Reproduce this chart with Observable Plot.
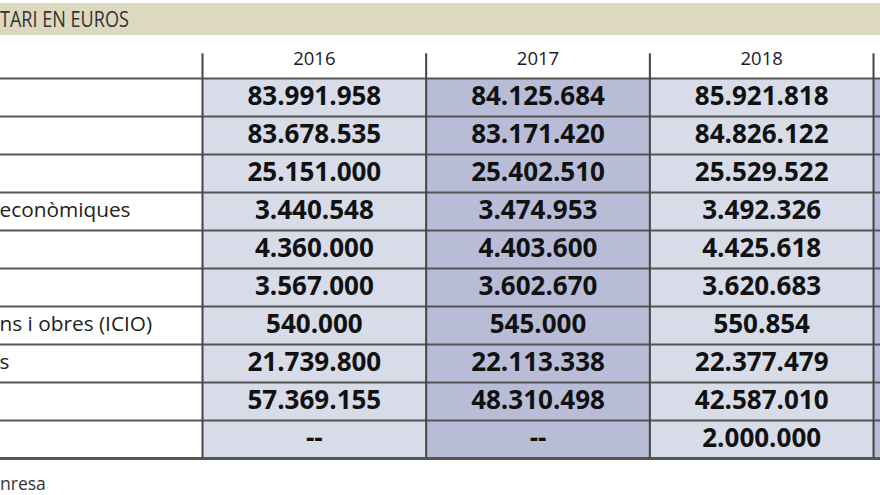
<!DOCTYPE html>
<html>
<head>
<meta charset="utf-8">
<script src="https://cdn.jsdelivr.net/npm/d3@7"></script>
<script src="https://cdn.jsdelivr.net/npm/@observablehq/plot@0.6"></script>
<style>
  html, body { margin: 0; padding: 0; background: #fff; overflow: hidden; }
  body { width: 880px; height: 495px; position: relative; font-family: "Open Sans", sans-serif; }
  #title { position: absolute; left: 0; top: 3px; width: 880px; height: 32px; background: #ddd8c0;
           color: #333; font-size: 21px; line-height: 33px; white-space: nowrap; overflow: hidden; }
  #title span { display: inline-block; margin-left: 0; transform: scaleX(0.86); transform-origin: 0 50%; }
  #chart { position: absolute; left: 0; top: 38px; width: 880px; overflow: hidden; }
  #chart svg { overflow: hidden; }
  #caption { position: absolute; left: 0; top: 471px; font-size: 17.5px; color: #333; white-space: nowrap; }
</style>
</head>
<body>
<div id="title"></div>
<div id="chart"></div>
<div id="caption"></div>
<script>
// ---- data ----
const title = "TARI EN EUROS";
const source = "nresa";
const years = ["2016", "2017", "2018", "2019"];
const rowLabels = ["", "", "", "econòmiques", "", "", "ns i obres (ICIO)", "s", "", ""];
const v2016 = [83991958, 83678535, 25151000, 3440548, 4360000, 3567000, 540000, 21739800, 57369155, null];
const v2017 = [84125684, 83171420, 25402510, 3474953, 4403600, 3602670, 545000, 22113338, 48310498, null];
const v2018 = [85921818, 84826122, 25529522, 3492326, 4425618, 3620683, 550854, 22377479, 42587010, 2000000];
const v2019 = []; // column cut off at the right edge

// ---- build tables ----
const series = [v2016, v2017, v2018, v2019];
const nRows = rowLabels.length;
const locale = d3.formatLocale({decimal: ",", thousands: ".", grouping: [3], currency: ["", " €"]});
const fmt = locale.format(",d");

const cells = [];
years.forEach((yr, c) => {
  for (let r = 0; r < nRows; r++) {
    const v = series[c][r];
    cells.push({col: c + 1, row: r, year: yr, value: v, shown: c < 3});
  }
});
// the last column is cut off in the picture: only its fill is visible
const headers = years.slice(0, 3).map((yr, c) => ({col: c + 1, year: yr}));
const labels = rowLabels.map((l, r) => ({row: r, label: l}));
const boundaries = d3.range(1, years.length + 1);
const rowLines = d3.range(0, nRows + 1);

const LIGHT = "#d8dbe8", DARK = "#b8bcd6";
const headerTop = -0.65;

document.getElementById("title").innerHTML = "<span></span>";
document.querySelector("#title span").textContent = title;
document.getElementById("caption").textContent = source;

const chart = Plot.plot({
  width: 880,
  height: 425,
  margin: 0,
  style: {fontFamily: "'Open Sans', sans-serif", background: "transparent", overflow: "hidden"},
  x: {type: "linear", domain: [0, 5], range: [-21.67, 1096.7], axis: null},
  y: {type: "linear", domain: [0, nRows], range: [40, 420], axis: null},
  marks: [
    Plot.rect(cells, {
      x1: "col", x2: d => d.col + 1, y1: "row", y2: d => d.row + 1,
      fill: d => (d.col % 2 === 0 ? DARK : LIGHT), inset: 0
    }),
    Plot.ruleY(rowLines.slice(0, -1), {y: d => d, stroke: "#555", strokeWidth: 2}),
    Plot.ruleY(rowLines.slice(-1), {y: d => d, stroke: "#555", strokeWidth: 3}),
    Plot.ruleX(boundaries, {x: d => d, y1: headerTop, y2: nRows, stroke: "#444", strokeWidth: 2}),
    Plot.text(headers, {
      x: d => d.col + 0.5, y: -0.52, text: "year",
      fontSize: 18.5, fill: "#1a1a2a"
    }),
    Plot.text(cells.filter(d => d.shown), {
      x: d => d.col + 0.5, y: d => d.row + 0.48,
      text: d => (d.value == null ? "--" : fmt(d.value)),
      fontSize: 26, fontWeight: 700, fill: "#111"
    }),
    Plot.text(labels, {
      frameAnchor: "left", y: d => d.row + 0.48, text: "label",
      textAnchor: "start", fontSize: 20.8, fill: "#222", dx: -1
    })
  ]
});
document.getElementById("chart").appendChild(chart);
</script>
</body>
</html>
